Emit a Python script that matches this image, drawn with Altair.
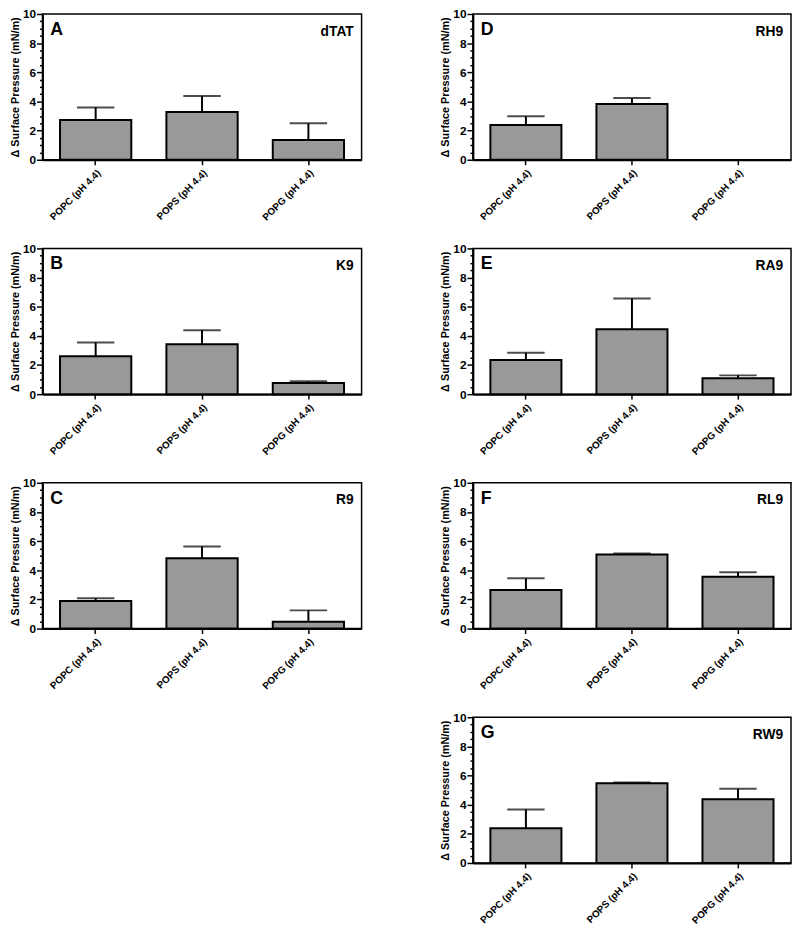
import altair as alt
import pandas as pd

lipids = ["POPC (pH 4.4)", "POPS (pH 4.4)", "POPG (pH 4.4)"]
letters = ["A", "B", "C", "D", "E", "F", "G"]
peptides = ["dTAT", "K9", "R9", "RH9", "RA9", "RL9", "RW9"]

dtat_mean = [2.73, 3.28, 1.35]
dtat_sem = [0.86, 1.09, 1.15]
k9_mean = [2.60, 3.42, 0.77]
k9_sem = [0.95, 0.97, 0.11]
r9_mean = [1.90, 4.82, 0.47]
r9_sem = [0.18, 0.81, 0.78]
rh9_mean = [2.38, 3.82, None]
rh9_sem = [0.60, 0.41, None]
ra9_mean = [2.34, 4.45, 1.09]
ra9_sem = [0.50, 2.12, 0.20]
rl9_mean = [2.65, 5.08, 3.56]
rl9_sem = [0.80, 0.08, 0.30]
rw9_mean = [2.38, 5.47, 4.38]
rw9_sem = [1.29, 0.06, 0.71]

means = [dtat_mean, k9_mean, r9_mean, rh9_mean, ra9_mean, rl9_mean, rw9_mean]
sems = [dtat_sem, k9_sem, r9_sem, rh9_sem, ra9_sem, rl9_sem, rw9_sem]

FONT = "Liberation Sans"
H = 148
y_tick_values = [i * 0.5 for i in range(21)]


def panel(letter, name, mean, sem, W):
    df = pd.DataFrame({"lipid": lipids, "mean": mean, "sem": sem}).dropna()
    df["upper"] = df["mean"] + df["sem"]
    xscale = alt.Scale(domain=lipids, paddingInner=0.33, paddingOuter=0.165)
    xaxis = alt.Axis(title=None, labelAngle=-45, labelFontSize=10, tickSize=5,
                     labelPadding=3)
    yscale = alt.Scale(domain=[0, 10], nice=False, zero=True)
    yaxis = alt.Axis(
        title="\u0394 Surface Pressure (mN/m)",
        values=y_tick_values,
        labelExpr="datum.value % 2 == 0 ? format(datum.value, 'd') : ''",
        labelOverlap=False,
        tickSize={"condition": {"test": "datum.value % 2 == 0", "value": 6}, "value": 3},
        labelFontSize=12,
        titleFontSize=11,
        titlePadding=2,
        labelPadding=1,
    )
    bars = alt.Chart(df).mark_bar(color="#999999", stroke="black", strokeWidth=2).encode(
        x=alt.X("lipid:N", scale=xscale, axis=xaxis),
        y=alt.Y("mean:Q", scale=yscale, axis=yaxis),
    )
    err = alt.Chart(df).mark_rule(color="black", strokeWidth=2).encode(
        x=alt.X("lipid:N", scale=xscale, axis=xaxis),
        y=alt.Y("mean:Q", scale=yscale, axis=yaxis),
        y2="upper:Q",
    )
    cap = alt.Chart(df).mark_tick(color="black", thickness=2, size=38, orient="horizontal").encode(
        x=alt.X("lipid:N", scale=xscale, axis=xaxis),
        y=alt.Y("upper:Q", scale=yscale, axis=yaxis),
    )
    lab = alt.Chart(pd.DataFrame({"t": [letter]})).mark_text(
        align="left", baseline="alphabetic", fontSize=18, fontWeight="bold", font=FONT, color="black"
    ).encode(text="t:N", x=alt.value(8), y=alt.value(21))
    nm = alt.Chart(pd.DataFrame({"t": [name]})).mark_text(
        align="right", baseline="alphabetic", fontSize=14, fontWeight="bold", font=FONT, color="black"
    ).encode(text="t:N", x=alt.value(W - 8), y=alt.value(22))
    return alt.layer(bars, err, cap, lab, nm).properties(width=W, height=H)


charts = [panel(letters[i], peptides[i], means[i], sems[i], 324 if i < 3 else 323) for i in range(7)]

left = alt.vconcat(*charts[:3], spacing=18)
right = alt.vconcat(*charts[3:], spacing=18)

chart = alt.hconcat(left, right, spacing=77).properties(
    padding={"left": 0, "top": -8, "right": 0, "bottom": 0}
).configure_view(
    stroke="black", strokeWidth=1.5
).configure_axis(
    grid=False,
    labelOverlap=False,
    domainColor="black",
    domainWidth=2,
    tickColor="black",
    tickWidth=1.5,
    labelColor="black",
    titleColor="black",
    labelFont=FONT,
    titleFont=FONT,
    labelFontWeight="bold",
    titleFontWeight="bold",
)

chart.save("out.html", embed_options={"renderer": "svg", "actions": False})
